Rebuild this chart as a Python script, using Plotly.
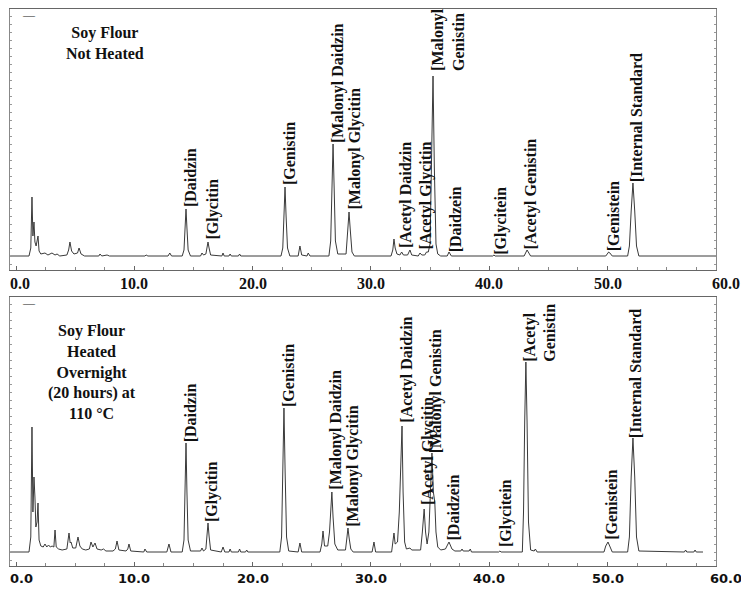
import plotly.graph_objects as go

# ---------------- data ----------------
# retention time (min) and detector signal (relative units) - top: not heated
top_time = [-0.5, 1.1, 1.25, 1.35, 1.43, 1.52, 1.6, 1.7, 1.86, 1.95, 2.1, 2.45, 2.7, 3.04, 3.3, 3.47, 3.7,
            4.3, 4.45, 4.56, 4.7, 4.9, 5.2, 5.33, 5.5, 5.8, 7.0, 7.1, 7.25, 7.7, 7.9, 10.9, 11.0, 11.15,
            12.85, 13.0, 13.15, 14.05, 14.2, 14.29, 14.37, 14.45, 14.55, 14.75, 15.6, 15.72, 15.85,
            16.05, 16.15, 16.23, 16.32, 16.45, 17.4, 17.5, 17.6, 18.0, 18.1, 18.2, 18.8, 18.9, 19.0,
            22.4, 22.55, 22.65, 22.74, 22.83, 22.95, 23.15, 23.85, 24.0, 24.15, 24.6, 24.7, 24.85,
            26.45, 26.6, 26.7, 26.8, 26.9, 27.0, 27.2, 27.9, 28.05, 28.15, 28.25, 28.4, 28.6,
            31.7, 31.85, 31.95, 32.05, 32.2, 32.45, 32.6, 32.75, 33.1, 33.3, 33.45, 34.0, 34.15, 34.3,
            34.55, 34.7, 34.85, 35.0, 35.12, 35.25, 35.36, 35.5, 35.65, 35.9, 36.45, 36.6, 36.8,
            40.3, 40.4, 40.5, 42.95, 43.1, 43.2, 43.3, 43.5, 49.85, 50.0, 50.1, 50.2, 50.4,
            51.7, 51.85, 52.0, 52.15, 52.3, 52.45, 52.65, 59.2]
top_signal = [0, 0, 8, 59, 20, 34, 14, 10, 20, 5, 2, 3, 1, 3, 1, 2, 0,
              1, 6, 14, 5, 2, 3, 8, 2, 0, 0, 2, 0, 1, 0, 0, 1, 0,
              0, 3, 0, 0, 6, 28, 47, 28, 6, 0, 0, 3, 1,
              2, 9, 14, 8, 1, 0, 3, 0, 0, 2, 0, 0, 2, 0,
              0, 8, 40, 69, 40, 8, 0, 0, 10, 1, 0, 3, 0,
              0, 15, 65, 112, 65, 15, 2, 2, 27, 44, 27, 4, 0,
              0, 6, 17, 8, 2, 1, 4, 1, 1, 6, 1, 0, 3, 1,
              1, 4, 4, 12, 90, 180, 90, 12, 2, 0, 0, 4, 0,
              0, 1, 0, 0, 4, 6, 4, 0, 0, 3, 4, 3, 0,
              0, 10, 45, 73, 45, 10, 0, 0]

# bottom: heated overnight (20 h) at 110 C
bot_time = [-0.5, 1.1, 1.25, 1.35, 1.43, 1.52, 1.6, 1.68, 1.78, 1.86, 1.95, 2.1, 2.3, 2.45, 2.6, 2.75, 2.9,
            3.05, 3.2, 3.3, 3.4, 3.6, 3.9, 4.3, 4.48, 4.58, 4.65, 4.8, 5.05, 5.24, 5.4, 5.6, 5.9, 6.2,
            6.34, 6.5, 6.68, 6.85, 7.2, 7.4, 7.6, 8.2, 8.4, 8.54, 8.7, 9.3, 9.45, 9.55, 9.7, 10.8, 10.9,
            11.05, 12.75, 12.93, 13.1, 14.05, 14.2, 14.29, 14.37, 14.45, 14.55, 14.75, 15.6, 15.72,
            15.85, 16.05, 16.14, 16.23, 16.32, 16.45, 17.35, 17.5, 17.65, 18.0, 18.1, 18.2, 18.8, 18.9,
            19.0, 19.4, 19.5, 19.6, 22.3, 22.45, 22.55, 22.65, 22.75, 22.87, 23.05, 23.85, 24.0, 24.15,
            25.7, 25.85, 25.95, 26.08, 26.35, 26.5, 26.6, 26.7, 26.8, 26.95, 27.2, 27.85, 27.97, 28.06,
            28.16, 28.3, 28.5, 30.1, 30.26, 30.4, 31.75, 31.88, 31.95, 32.05, 32.25, 32.4, 32.47, 32.55,
            32.63, 32.72, 32.85, 33.0, 33.3, 33.45, 34.2, 34.35, 34.5, 34.62, 34.75, 34.9, 35.05, 35.16,
            35.28, 35.4, 35.5, 35.65, 35.9, 36.3, 36.6, 36.85, 37.1, 37.6, 37.7, 37.8, 38.3, 38.4, 38.5,
            40.8, 40.9, 41.0, 42.8, 42.9, 43.0, 43.1, 43.2, 43.32, 43.5, 43.8, 43.9, 44.05,
            49.7, 49.85, 50.04, 50.2, 50.4, 51.7, 51.85, 52.0, 52.15, 52.3, 52.45, 52.65,
            56.5, 56.6, 56.7, 57.3, 57.4, 57.5, 58.07]
bot_signal = [0, 0, 15, 125, 40, 75, 55, 25, 30, 49, 12, 6, 5, 8, 5, 7, 5,
              6, 5, 22, 5, 3, 2, 3, 19, 9, 10, 4, 4, 15, 6, 3, 2, 3,
              10, 5, 9, 3, 2, 3, 1, 1, 3, 11, 2, 1, 3, 8, 1, 0, 3,
              0, 0, 8, 0, 0, 12, 60, 109, 60, 12, 1, 1, 4,
              1, 3, 16, 29, 16, 2, 0, 5, 0, 0, 3, 0, 0, 3,
              0, 0, 2, 0, 0, 15, 80, 144, 80, 15, 1, 0, 9, 0,
              0, 8, 21, 6, 6, 20, 40, 60, 35, 8, 2, 2, 14, 24,
              14, 3, 0, 0, 10, 0, 0, 10, 19, 8, 10, 40, 69, 90,
              126, 60, 10, 3, 4, 2, 2, 20, 43, 20, 8, 20, 60, 99,
              60, 50, 20, 5, 2, 3, 10, 3, 1, 1, 3, 1, 1, 3, 0,
              0, 1, 0, 0, 40, 130, 190, 130, 30, 2, 1, 3, 0,
              0, 6, 10, 6, 0, 0, 15, 75, 114, 75, 15, 1,
              0, 2, 0, 0, 2, 0, 0]

# peak labels: name, retention time, label height
top_label_names = ["Daidzin", "Glycitin", "Genistin", "Malonyl Daidzin", "Malonyl Glycitin",
                   "Acetyl Daidzin", "Acetyl Glycitin", "Malonyl<br>Genistin", "Daidzein",
                   "Glycitein", "Acetyl Genistin", "Genistein", "Internal Standard"]
top_label_rt = [14.37, 16.23, 22.74, 26.8, 28.15, 32.55, 34.2, 35.2, 36.75, 40.55, 43.1, 50.1, 52.1]
top_label_h = [49, 16, 71, 113, 46, 8, 6, 185, 4, 1, 7, 5, 74]

bot_label_names = ["Daidzin", "Glycitin", "Genistin", "Malonyl Daidzin", "Malonyl Glycitin",
                   "Acetyl Daidzin", "Acetyl Glycitin", "Malonyl Genistin", "Daidzein",
                   "Glycitein", "Acetyl<br>Genistin", "Genistein", "Internal Standard"]
bot_label_rt = [14.4, 16.1, 22.65, 26.6, 28.0, 32.6, 34.4, 35.1, 36.6, 41.0, 43.0, 49.9, 52.0]
bot_label_h = [110, 30, 145, 62, 25, 129, 47, 99, 12, 5, 190, 12, 114]

top_title = "Soy Flour<br>Not Heated"
bot_title = "Soy Flour<br>Heated<br>Overnight<br>(20 hours) at<br>110 °C"

tick_vals = [0, 10, 20, 30, 40, 50, 60]
tick_text = ["0.0", "10.0", "20.0", "30.0", "40.0", "50.0", "60.0"]

# ---------------- figure ----------------
X_RANGE = [-0.507, 59.17]
TOP_Y_RANGE = [-14, 247]
BOT_Y_RANGE = [-14, 255]
LINE_COLOR = "#3a3a3a"
SERIF = "Liberation Serif"

fig = go.Figure()
fig.add_trace(go.Scatter(x=top_time, y=top_signal, mode="lines", xaxis="x", yaxis="y",
                         line=dict(color=LINE_COLOR, width=1), hoverinfo="skip"))
fig.add_trace(go.Scatter(x=bot_time, y=bot_signal, mode="lines", xaxis="x2", yaxis="y2",
                         line=dict(color=LINE_COLOR, width=1), hoverinfo="skip"))

annotations = []


def add_labels(names, rts, hs, xref, yref):
    for n, rt, h in zip(names, rts, hs):
        annotations.append(dict(text="[" + n, x=rt, y=h, xref=xref, yref=yref, textangle=-90,
                                xanchor="left", yanchor="bottom", showarrow=False, align="left",
                                xshift=-6, yshift=-2,
                                font=dict(family=SERIF, size=16, color="#111", weight="bold")))


add_labels(top_label_names, top_label_rt, top_label_h, "x", "y")
add_labels(bot_label_names, bot_label_rt, bot_label_h, "x2", "y2")

# panel titles
annotations.append(dict(text=top_title, x=0.1346, y=0.939, xref="paper", yref="paper",
                        xanchor="center", yanchor="middle", showarrow=False, align="center",
                        font=dict(family=SERIF, size=16, color="#111", weight="bold")))
annotations.append(dict(text=bot_title, x=0.116, y=0.348, xref="paper", yref="paper",
                        xanchor="center", yanchor="middle", showarrow=False, align="center",
                        font=dict(family=SERIF, size=16, color="#111", weight="bold")))
# small dash markers in the corners
for yy in (0.989, 0.472):
    annotations.append(dict(text="—", x=0.0269, y=yy, xref="paper", yref="paper",
                            xanchor="center", yanchor="middle",
                            showarrow=False, font=dict(family=SERIF, size=12, color="#222")))

# tick labels (60.0 lies beyond the plotted range, so drawn as annotations)
span = X_RANGE[1] - X_RANGE[0]
for i, (v, t) in enumerate(zip(tick_vals, tick_text)):
    fx = (v - X_RANGE[0]) / span
    anchor = "center"
    if i == 0:  # keep the first label inside the page
        fx, anchor = 0.0, "left"
    annotations.append(dict(text=t, x=fx, y=0, xref="x domain", yref="y domain",
                            xanchor=anchor, yanchor="middle", xshift=-2 if i == 0 else 0,
                            yshift=-13, showarrow=False,
                            font=dict(family=SERIF, size=16, color="#111", weight="bold")))
    annotations.append(dict(text=t, x=fx, y=0, xref="x2 domain", yref="y2 domain",
                            xanchor=anchor, yanchor="middle", xshift=-2 if i == 0 else 0,
                            yshift=-12, showarrow=False,
                            font=dict(family="DejaVu Sans", size=13, color="#111", weight="bold")))

xcommon = dict(range=X_RANGE, showgrid=False, zeroline=False, showline=True, linecolor="#666",
               linewidth=1, mirror=True, ticks="inside", ticklen=4, tickcolor="#666",
               tickvals=tick_vals, showticklabels=False,
               minor=dict(ticks="inside", ticklen=3, dtick=2.5, tick0=0, tickcolor="#888"))
ycommon = dict(showgrid=False, zeroline=False, showline=True, linecolor="#888", linewidth=1,
               mirror="ticks", ticks="inside", ticklen=2, tickcolor="#999", dtick=8,
               showticklabels=False)

# the page body adds an 8 px offset, so the figure is 8 px smaller and margins shifted
fig.update_layout(
    width=741, height=589,
    margin=dict(l=2, r=33, t=1, b=31),
    paper_bgcolor="white", plot_bgcolor="white",
    showlegend=False,
    xaxis=dict(domain=[0, 1], anchor="y", **xcommon),
    yaxis=dict(domain=[0.5314, 1], anchor="x", range=TOP_Y_RANGE, **ycommon),
    xaxis2=dict(domain=[0, 1], anchor="y2", **xcommon),
    yaxis2=dict(domain=[0, 0.4829], anchor="x2", range=BOT_Y_RANGE, **ycommon),
    annotations=annotations,
)

fig.write_html("out.html")
